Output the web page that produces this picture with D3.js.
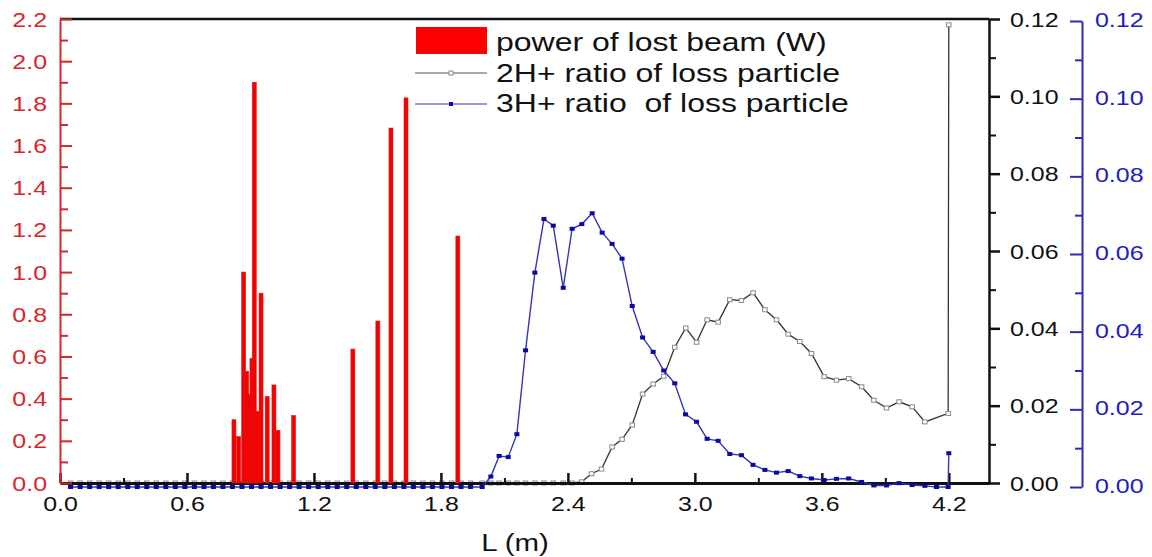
<!DOCTYPE html>
<html>
<head>
<meta charset="utf-8">
<script src="https://cdn.jsdelivr.net/npm/d3@7/dist/d3.min.js"></script>
<style>
body { margin: 0; background: #fff; }
text { font-family: "Liberation Sans", Arial, sans-serif; }
</style>
</head>
<body>
<div id="chart-area"></div>
<script>
// Datos: potencia de haz perdido (barras)
var barL = [0.822, 0.844, 0.868, 0.882, 0.893, 0.907, 0.918, 0.934, 0.950, 0.979, 1.011, 1.030, 1.104, 1.384, 1.502, 1.564, 1.635, 1.880];
var barPower = [0.30, 0.22, 1.00, 0.53, 0.42, 0.59, 1.90, 0.34, 0.90, 0.41, 0.465, 0.25, 0.32, 0.635, 0.768, 1.683, 1.826, 1.171];

// Tramo donde ambas razones valen 0
var zeroL = [0.05, 0.095, 0.14, 0.185, 0.23, 0.275, 0.32, 0.365, 0.41, 0.455, 0.5, 0.545, 0.59, 0.635, 0.68,
    0.725, 0.77, 0.815, 0.86, 0.905, 0.95, 0.995, 1.04, 1.085, 1.13, 1.175, 1.22, 1.265, 1.31, 1.355, 1.4,
    1.445, 1.49, 1.535, 1.58, 1.625, 1.67, 1.715, 1.76, 1.805, 1.85, 1.895, 1.94];
var zeroRatio = [0, 0, 0, 0, 0, 0, 0, 0, 0, 0, 0, 0, 0, 0, 0, 0, 0, 0, 0, 0, 0, 0, 0, 0, 0, 0, 0, 0, 0, 0, 0,
    0, 0, 0, 0, 0, 0, 0, 0, 0, 0, 0, 0];

// 2H+
var h2L = [1.995, 2.036, 2.075, 2.118, 2.159, 2.200, 2.244, 2.287, 2.331, 2.378, 2.420, 2.465, 2.512, 2.559,
    2.609, 2.656, 2.704, 2.753, 2.803, 2.853, 2.905, 2.957, 3.008, 3.058, 3.110, 3.165, 3.220, 3.275, 3.331,
    3.386, 3.441, 3.496, 3.551, 3.611, 3.669, 3.727, 3.788, 3.846, 3.906, 3.965, 4.027, 4.087, 4.197, 4.2];
var h2Ratio = [0, 0, 0, 0, 0, 0, 0, 0, 0, 0, 0, 0.0003, 0.0024, 0.0036,
    0.0093, 0.0113, 0.015, 0.023, 0.0256, 0.0276, 0.0351, 0.0401, 0.0364, 0.0422, 0.0416, 0.0474, 0.0472, 0.0492, 0.0448,
    0.0422, 0.0385, 0.0366, 0.0335, 0.0275, 0.0266, 0.027, 0.0249, 0.0214, 0.0194, 0.021, 0.0197, 0.0158, 0.018, 0.1185];

// 3H+
var h3L = [1.995, 2.036, 2.075, 2.118, 2.159, 2.200, 2.244, 2.287, 2.331, 2.378, 2.420, 2.466, 2.515, 2.562,
    2.609, 2.656, 2.704, 2.753, 2.803, 2.853, 2.905, 2.956, 3.008, 3.058, 3.110, 3.165, 3.220, 3.275, 3.331,
    3.386, 3.441, 3.496, 3.551, 3.611, 3.669, 3.727, 3.788, 3.846, 3.906, 3.965, 4.027, 4.087, 4.142, 4.197, 4.2];
var h3Ratio = [0, 0.0027, 0.008, 0.0077, 0.0136, 0.0352, 0.0552, 0.069, 0.0673, 0.0513, 0.0665, 0.0677, 0.0705, 0.0655,
    0.0626, 0.0588, 0.0466, 0.0385, 0.0348, 0.030, 0.0267, 0.0187, 0.0168, 0.0124, 0.0119, 0.0085, 0.0082, 0.0057, 0.0044,
    0.0037, 0.0041, 0.0028, 0.0022, 0.0018, 0.0021, 0.0022, 0.0013, 0.0004, 0.0004, 0.001, 0.0005, 0.0003, 0, 0, 0.0087];

// Ticks
var lTicks = [0, 0.6, 1.2, 1.8, 2.4, 3.0, 3.6, 4.2];
var powTicks = [0, 0.2, 0.4, 0.6, 0.8, 1.0, 1.2, 1.4, 1.6, 1.8, 2.0, 2.2];
var ratioTicks = [0, 0.02, 0.04, 0.06, 0.08, 0.10, 0.12];
var legendLabels = ["power of lost beam (W)", "2H+ ratio of loss particle", "3H+ ratio  of loss particle"];

var width = 1152;
var height = 557;
var sx = 1.28; // texto estirado horizontalmente
var red = "#d8262b";
var blue = "#2a2ab8";

var svg = d3.select("#chart-area")
    .append("svg")
    .attr("width", width)
    .attr("height", height);

// Escalas
var x = d3.scaleLinear().domain([0, 4.39]).range([60, 989]);
var yPow = d3.scaleLinear().domain([0, 2.2]).range([483, 19]);
var yH2 = d3.scaleLinear().domain([0, 0.12]).range([483, 19]);
var yH3 = d3.scaleLinear().domain([0, 0.12]).range([487, 21]);

function midpoints(t) {
    return t.slice(1).map((d, i) => (d + t[i]) / 2);
}

function styleLabels(g, dx, dy, anchor, color, size) {
    g.selectAll(".tick text")
        .attr("x", 0).attr("y", 0).attr("dy", null)
        .attr("text-anchor", anchor)
        .attr("font-size", size + "px")
        .attr("fill", color)
        .attr("transform", "translate(" + dx + "," + dy + ") scale(" + sx + ",1)");
}

function styleAxis(g, color, w) {
    g.attr("font-family", null);
    g.select(".domain").attr("stroke", color).attr("stroke-width", w);
    g.selectAll(".tick line").attr("stroke", color).attr("stroke-width", w);
}

// Series
var h2Data = zeroL.map((l, i) => ({l: l, v: zeroRatio[i]}))
    .concat(h2L.map((l, i) => ({l: l, v: h2Ratio[i]})));
var h3Data = zeroL.map((l, i) => ({l: l, v: zeroRatio[i]}))
    .concat(h3L.map((l, i) => ({l: l, v: h3Ratio[i]})));

var lineH2 = d3.line().x((d) => x(d.l)).y((d) => yH2(d.v));
var lineH3 = d3.line().x((d) => x(d.l)).y((d) => yH3(d.v));

svg.append("path")
    .datum(h2Data)
    .attr("d", lineH2)
    .attr("fill", "none")
    .attr("stroke", "#333")
    .attr("stroke-width", 1.3);

svg.selectAll(".h2mark").data(h2Data).enter().append("rect")
    .attr("class", "h2mark")
    .attr("x", (d) => x(d.l) - 2.25)
    .attr("y", (d) => yH2(d.v) - 2)
    .attr("width", 4.5).attr("height", 4)
    .attr("fill", "#fff")
    .attr("stroke", "#8a8a8a")
    .attr("stroke-width", 1);

// Marco superior
svg.append("line")
    .attr("x1", 60).attr("x2", 989).attr("y1", 19).attr("y2", 19)
    .attr("stroke", "#111").attr("stroke-width", 2.5);

// Eje inferior
var bottomMinor = svg.append("g").attr("transform", "translate(0,483)")
    .call(d3.axisBottom(x).tickValues(midpoints(lTicks)).tickSize(-5).tickSizeOuter(0).tickFormat(""));
bottomMinor.select(".domain").remove();
styleAxis(bottomMinor, "#111", 2);
var bottomAxis = svg.append("g").attr("transform", "translate(0,483)")
    .call(d3.axisBottom(x).tickValues(lTicks).tickSize(-10).tickSizeOuter(0).tickFormat(d3.format(".1f")));
styleAxis(bottomAxis, "#111", 3);
bottomAxis.selectAll(".tick line").attr("stroke-width", 2.5);
styleLabels(bottomAxis, 0, 28, "middle", "#111", 19.5);

// Eje izquierdo (potencia)
var leftMinor = svg.append("g").attr("transform", "translate(60,0)")
    .call(d3.axisLeft(yPow).tickValues(midpoints(powTicks)).tickSize(-8).tickSizeOuter(0).tickFormat(""));
leftMinor.select(".domain").remove();
styleAxis(leftMinor, red, 2);
var leftAxis = svg.append("g").attr("transform", "translate(60,0)")
    .call(d3.axisLeft(yPow).tickValues(powTicks).tickSize(-12).tickSizeOuter(0).tickFormat(d3.format(".1f")));
styleAxis(leftAxis, red, 2);
styleLabels(leftAxis, -13, 7, "end", red, 19.5);

// Eje derecho negro (2H+)
var rightMinor = svg.append("g").attr("transform", "translate(989,0)")
    .call(d3.axisRight(yH2).tickValues(midpoints(ratioTicks)).tickSize(7).tickSizeOuter(0).tickFormat(""));
rightMinor.select(".domain").remove();
styleAxis(rightMinor, "#111", 2);
var rightAxis = svg.append("g").attr("transform", "translate(989,0)")
    .call(d3.axisRight(yH2).tickValues(ratioTicks).tickSize(11).tickSizeOuter(0).tickFormat(d3.format(".2f")));
styleAxis(rightAxis, "#111", 2.5);
styleLabels(rightAxis, 21, 7, "start", "#111", 19.5);

// Eje derecho azul (3H+)
var blueMinor = svg.append("g").attr("transform", "translate(1082,0)")
    .call(d3.axisRight(yH3).tickValues(midpoints(ratioTicks)).tickSize(-7).tickSizeOuter(0).tickFormat(""));
blueMinor.select(".domain").remove();
styleAxis(blueMinor, blue, 2);
var blueAxis = svg.append("g").attr("transform", "translate(1082,0)")
    .call(d3.axisRight(yH3).tickValues(ratioTicks).tickSize(-12).tickSizeOuter(0).tickFormat(d3.format(".2f")));
styleAxis(blueAxis, blue, 2);
styleLabels(blueAxis, 13, 5.5, "start", "#2020c0", 19.5);

// Etiqueta eje x
svg.append("text")
    .attr("transform", "translate(515,551) scale(" + sx + ",1)")
    .attr("text-anchor", "middle")
    .attr("font-size", "23px")
    .attr("fill", "#111")
    .text("L (m)");

// Barras
var bars = barL.map((l, i) => ({l: l, p: barPower[i]}));
svg.selectAll(".bar").data(bars).enter().append("rect")
    .attr("class", "bar")
    .attr("x", (d) => x(d.l) - 2)
    .attr("y", (d) => yPow(d.p))
    .attr("width", 4)
    .attr("height", (d) => yPow(0) - yPow(d.p))
    .attr("fill", "#f40000")
    .attr("stroke", "#d81c1c")
    .attr("stroke-width", 0.6);

svg.append("path")
    .datum(h3Data)
    .attr("d", lineH3)
    .attr("fill", "none")
    .attr("stroke", "#3535b5")
    .attr("stroke-width", 1.4);

svg.selectAll(".h3mark").data(h3Data).enter().append("rect")
    .attr("class", "h3mark")
    .attr("x", (d) => x(d.l) - 2.5)
    .attr("y", (d) => yH3(d.v) - 2)
    .attr("width", 5).attr("height", 4)
    .attr("fill", "#0a0aa0");

// Leyenda
var legend = svg.append("g");
legend.append("rect")
    .attr("x", 416).attr("y", 27).attr("width", 71).attr("height", 27)
    .attr("fill", "#ff0000");
legend.append("line")
    .attr("x1", 415).attr("x2", 487).attr("y1", 73).attr("y2", 73)
    .attr("stroke", "#555").attr("stroke-width", 1.2);
legend.append("rect")
    .attr("x", 449).attr("y", 71).attr("width", 4).attr("height", 4)
    .attr("fill", "#fff").attr("stroke", "#888");
legend.append("line")
    .attr("x1", 415).attr("x2", 487).attr("y1", 104).attr("y2", 104)
    .attr("stroke", "#3535b5").attr("stroke-width", 1.2);
legend.append("rect")
    .attr("x", 449).attr("y", 102).attr("width", 4).attr("height", 4)
    .attr("fill", "#0a0aa0");

var legendY = [51, 82, 112];
legend.selectAll(".ltext").data(legendLabels).enter().append("text")
    .attr("class", "ltext")
    .attr("transform", (d, i) => "translate(496," + legendY[i] + ") scale(" + sx + ",1)")
    .attr("font-size", "25px")
    .attr("fill", "#111")
    .style("white-space", "pre")
    .text((d) => d);
</script>
</body>
</html>
